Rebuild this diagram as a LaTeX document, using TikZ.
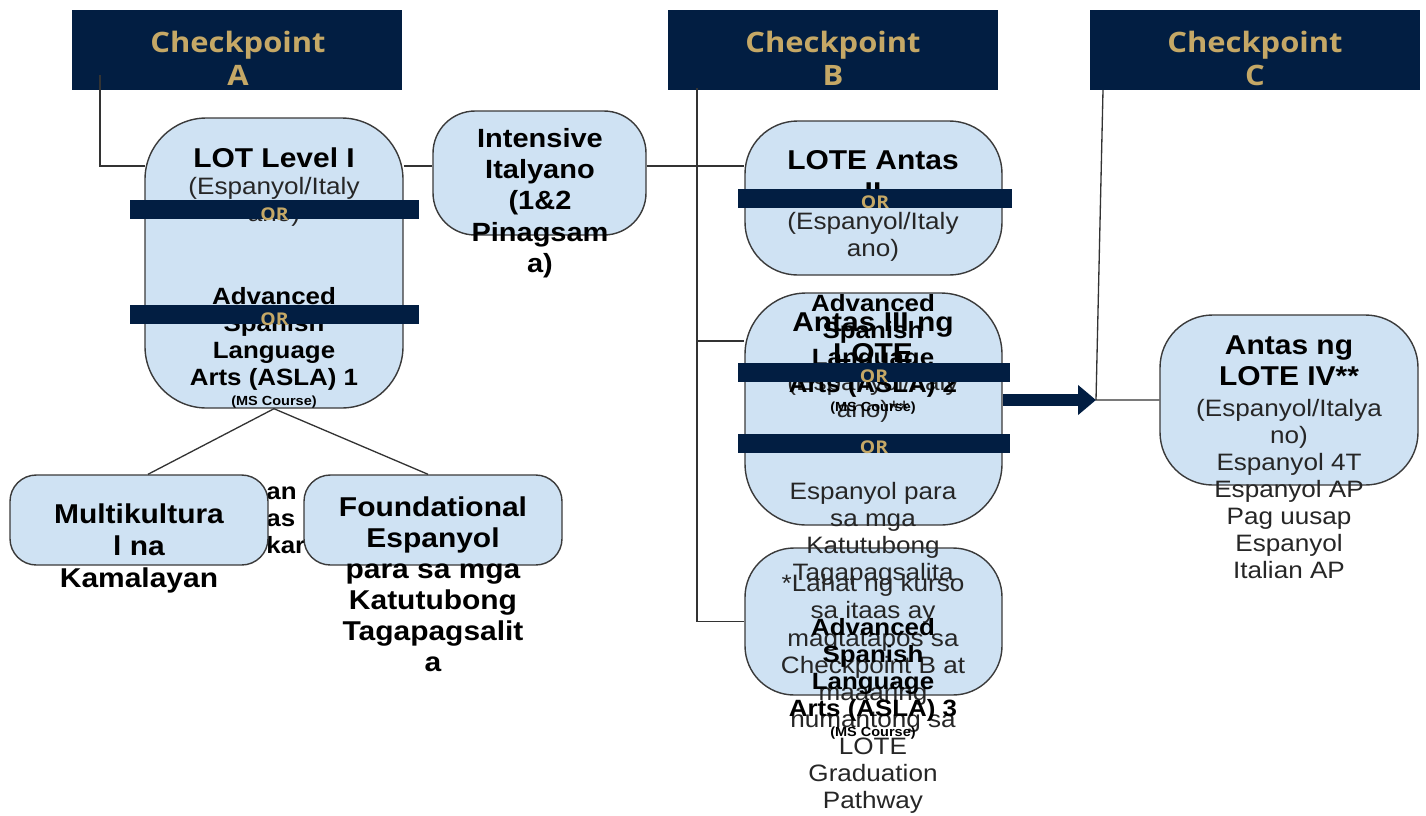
\documentclass[tikz,border=0pt]{standalone}
\usepackage{fontspec}
\setmainfont{Liberation Sans}[FakeStretch=1.1]
\newfontfamily\hdrf{Open Sans}[FakeStretch=1.1]
\usetikzlibrary{fit,calc,arrows.meta}
\definecolor{navy}{HTML}{021E42}
\definecolor{gold}{HTML}{C5A866}
\definecolor{boxc}{HTML}{CFE2F3}
\definecolor{bordc}{HTML}{3A3A3A}
\definecolor{linec}{HTML}{333333}
\definecolor{txtc}{HTML}{262626}
\begin{document}
\begin{tikzpicture}[x=0.02cm,y=-0.02cm,
  box/.style={draw=bordc, line width=0.8pt, fill=boxc, inner sep=0pt},
  hdr/.style={fill=navy, draw=none, inner sep=0pt},
  hdrtxt/.style={text=gold, font=\hdrf\bfseries\fontsize{16}{18.8}\selectfont, align=center, inner sep=0pt},
  orbar/.style={fill=navy, draw=none, inner sep=0pt},
  ortxt/.style={text=gold, font=\hdrf\bfseries\fontsize{10}{11}\selectfont, inner sep=0pt},
  bt/.style={font=\bfseries\fontsize{15.5}{17.7}\selectfont, align=center, inner sep=0pt, text=black},
  bs/.style={font=\bfseries\fontsize{13.4}{15.5}\selectfont, align=center, inner sep=0pt, text=black},
  rt/.style={font=\fontsize{13.5}{15.4}\selectfont, align=center, inner sep=0pt, text=txtc},
  ms/.style={font=\bfseries\fontsize{7.5}{9}\selectfont, inner sep=0pt, text=black},
  conn/.style={draw=linec, line width=0.75pt},
  bigarrow/.style={draw=navy, line width=0.24cm, -{Triangle[length=0.36cm,width=0.58cm]}}
]
\useasboundingbox (0,0) rectangle (1426,815);

% headers
\node[hdr, fit={(72,10) (402,90)}] (cA) {};
\node[hdr, fit={(668,10) (998,90)}] (cB) {};
\node[hdr, fit={(1090,10) (1420,90)}] (cC) {};
\node[hdrtxt] (cAt) at (238,58) {Checkpoint\\A};
\node[hdrtxt] (cBt) at (833,58) {Checkpoint\\B};
\node[hdrtxt] (cCt) at (1255,58) {Checkpoint\\C};

% junction coordinates
\coordinate (jA) at (100,75);
\coordinate (hA) at (145,166);
\coordinate (jB) at (697,88);
\coordinate (hB) at (697,341);
\coordinate (jC) at (1103,90);
\coordinate (kC) at (1096,400);

% hidden text behind bottom boxes
\node[bs, align=left, anchor=west] (hid) at (266,520) {an\\as\\kar};

% boxes
\node[box, rounded corners=35, fit={(145,118) (403,408)}] (lot) {};
\node[box, rounded corners=24, fit={(433,111) (646,235)}] (ita) {};
\node[box, rounded corners=30, fit={(745,121) (1002,275)}] (l2) {};
\node[box, rounded corners=35, fit={(745,293) (1002,525)}] (b2) {};
\node[box, rounded corners=28, fit={(745,548) (1002,695)}] (b3) {};
\node[box, rounded corners=30, fit={(1160,315) (1418,485)}] (l4) {};
\node[box, rounded corners=15, fit={(10,475) (268,565)}] (mk) {};
\node[box, rounded corners=15, fit={(304,475) (562,565)}] (fd) {};

% connectors
\draw[conn] (jA) |- (hA);
\draw[conn] (hA -| lot.east) -- (hA -| ita.west);
\draw[conn] (hA -| ita.east) -- (hA -| jB);
\draw[conn] (jB) -- (jB |- b3.west) -- (b3.west);
\draw[conn] (jB |- hA) -- (hA -| l2.west);
\draw[conn] (hB) -- (hB -| b2.west);
\draw[conn] (jC) -- (kC) -- (l4.west);
\draw[conn] (lot.south) -- ([xshift=0.18cm]mk.north);
\draw[conn] (lot.south) -- ([xshift=-0.1cm]fd.north);

% texts
\node[bt] (lotT) at (274,158) {LOT Level I};
\node[rt] (lotS) at (274,202) {(Espanyol/Italy\\ano)};
\node[bs] (lotA) at (274,339) {Advanced\\Spanish\\Language\\Arts (ASLA) 1};
\node[ms] (lotM) at (274,402) {(MS Course)};

\node[bt, font=\bfseries\fontsize{15}{17.8}\selectfont] (itaT) at (540,203) {Intensive\\Italyano\\(1\&2\\Pinagsam\\a)};

\node[bt] (l2T) at (873,176) {LOTE Antas\\II};
\node[rt] (l2S) at (873,237) {(Espanyol/Italy\\ano)};

\node[bt] (b2T) at (873,338) {Antas III ng\\LOTE};
\node[rt] (b2S) at (873,398) {(Espanyol/Italy\\ano)**};
\node[bs] (b2A) at (873,346) {Advanced\\Spanish\\Language\\Arts (ASLA) 2};
\node[ms] (b2M) at (873,408) {(MS Course)};
\node[rt] (b2E) at (873,534) {Espanyol para\\sa mga\\Katutubong\\Tagapagsalita};

\node[rt] (b3N) at (873,694) {*Lahat ng kurso\\sa itaas ay\\magtatapos sa\\Checkpoint B at\\maaaring\\humantong sa\\LOTE\\Graduation\\Pathway};
\node[bs] (b3A) at (873,670) {Advanced\\Spanish\\Language\\Arts (ASLA) 3};
\node[ms] (b3M) at (873,733) {(MS Course)};

\node[bt] (l4T) at (1289,361) {Antas ng\\LOTE IV**};
\node[rt] (l4S) at (1289,489) {(Espanyol/Italya\\no)\\Espanyol 4T\\Espanyol AP\\Pag uusap\\Espanyol\\Italian AP};

\node[bt, font=\bfseries\fontsize{15.5}{18.2}\selectfont] (mkT) at (139,548) {Multikultura\\l na\\Kamalayan};
\node[bt] (fdT) at (433,584) {Foundational\\Espanyol\\para sa mga\\Katutubong\\Tagapagsalit\\a};

% OR bars
\node[orbar, fit={(130,200) (419,219)}] (or1) {};
\node[orbar, fit={(130,305) (419,324)}] (or2) {};
\node[orbar, fit={(738,189) (1012,208)}] (or3) {};
\node[orbar, fit={(738,363) (1010,382)}] (or4) {};
\node[orbar, fit={(738,434) (1010,453)}] (or5) {};
\node[ortxt] (or1t) at ($(or1.center)+(0,5)$) {OR};
\node[ortxt] (or2t) at ($(or2.center)+(0,5)$) {OR};
\node[ortxt] (or3t) at ($(or3.center)+(0,4)$) {OR};
\node[ortxt] (or4t) at ($(or4.center)+(0,4)$) {OR};
\node[ortxt] (or5t) at ($(or5.center)+(0,4)$) {OR};

% big arrow
\draw[bigarrow] (b2.east |- kC) -- (kC);
\end{tikzpicture}
\end{document}
